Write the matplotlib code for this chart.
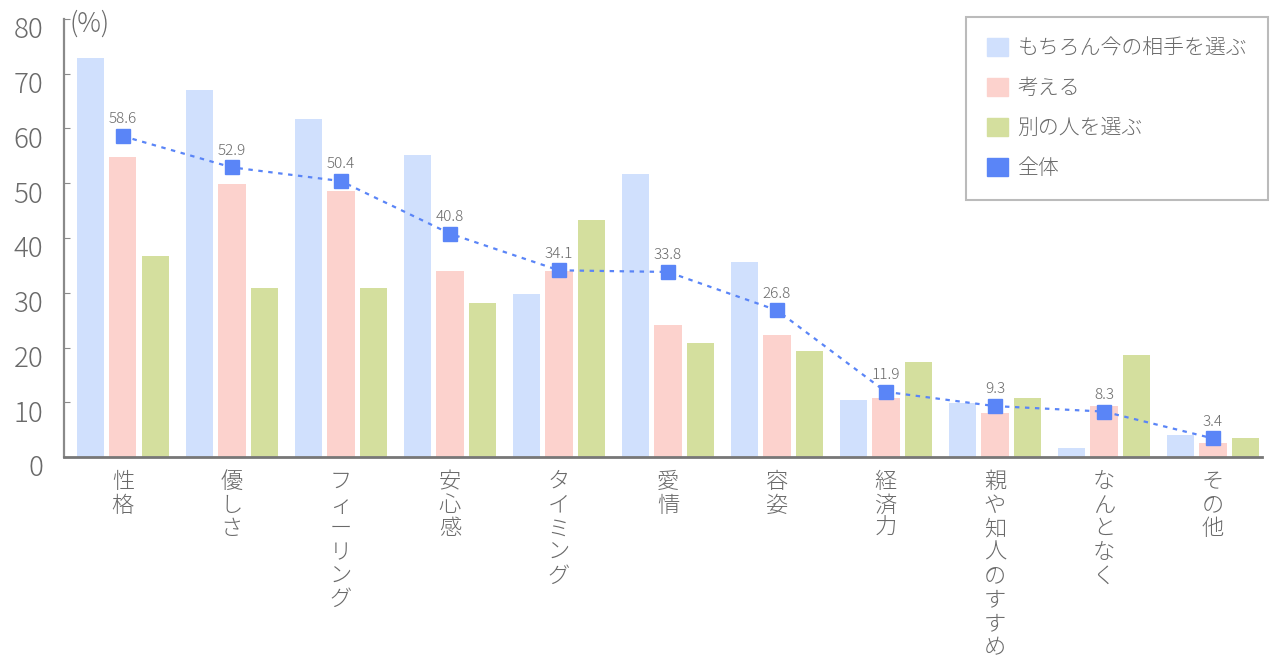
import matplotlib
matplotlib.use("Agg")
import matplotlib.pyplot as plt
import matplotlib.transforms as mtransforms
from matplotlib.patches import Patch
import numpy as np

plt.rcParams['font.family'] = ['Noto Sans CJK JP', 'DejaVu Sans']

# データ
categories = ["性格", "優しさ", "フィーリング", "安心感", "タイミング", "愛情",
              "容姿", "経済力", "親や知人のすすめ", "なんとなく", "その他"]
current_partner = [72.9, 67.0, 61.7, 55.2, 29.8, 51.7, 35.6, 10.4, 9.8, 1.7, 4.0]
thinking = [54.8, 49.8, 48.6, 34.0, 34.0, 24.2, 22.2, 10.8, 8.1, 9.4, 2.6]
other_person = [36.7, 30.9, 30.9, 28.1, 43.3, 20.9, 19.4, 17.3, 10.7, 18.6, 3.4]
total = [58.6, 52.9, 50.4, 40.8, 34.1, 33.8, 26.8, 11.9, 9.3, 8.3, 3.4]
series_names = ["もちろん今の相手を選ぶ", "考える", "別の人を選ぶ", "全体"]

c_blue = "#d0e0fd"
c_pink = "#fcd2cd"
c_green = "#d4df9e"
c_line = "#5a85f7"
c_text = "#6a6a6a"
c_axis = "#8a8a8a"

fig = plt.figure(figsize=(12.7, 6.71), dpi=100)
ax = fig.add_axes([0.0504, 0.3189, 0.9433, 0.6528])

x = np.arange(len(categories))
w = 0.25
b1 = ax.bar(x - 0.30, current_partner, w, color=c_blue, zorder=2)
b2 = ax.bar(x, thinking, w, color=c_pink, zorder=2)
b3 = ax.bar(x + 0.30, other_person, w, color=c_green, zorder=2)
ax.plot(x, total, color=c_line, ls=(0, (2, 2.5)), lw=1.6, marker='s', ms=9.5,
        mec=c_line, zorder=4)

for xi, v in zip(x, total):
    ax.annotate(f"{v}", (xi, v), xytext=(0, 7), textcoords='offset points',
                ha='center', va='bottom', fontsize=11, color=c_text,
                fontweight='light', zorder=5)

ax.set_xlim(-0.54, 10.45)
ax.set_ylim(0, 80)
ax.set_yticks(range(0, 81, 10))
ax.tick_params(axis='y', direction='in', length=4, color=c_axis, labelsize=20,
               labelcolor=c_text, pad=15)
for lab in ax.get_yticklabels():
    lab.set_fontweight('light')
    lab.set_transform(lab.get_transform() +
                      mtransforms.ScaledTranslation(0, -6 / 72, fig.dpi_scale_trans))

ax.set_xticks(x)
ax.set_xticklabels(["\n".join(c) for c in categories], fontsize=16,
                   color=c_text, linespacing=1.1, va='top', fontweight='light')
ax.tick_params(axis='x', length=0, pad=10)

for s in ["top", "right"]:
    ax.spines[s].set_visible(False)
ax.spines["left"].set_color(c_axis)
ax.spines["left"].set_linewidth(1.6)
ax.spines["bottom"].set_color("#777777")
ax.spines["bottom"].set_linewidth(2)

ax.text(0.005, 0.99, "(%)", transform=ax.transAxes, fontsize=19, color=c_text,
        ha='left', va='center', fontweight='light')

handles = [Patch(color=c_blue), Patch(color=c_pink), Patch(color=c_green),
           Patch(color=c_line)]
leg = ax.legend(handles, series_names, loc='upper right',
                bbox_to_anchor=(1.005, 1.005), frameon=True,
                fancybox=False, edgecolor="#aaaaaa", handlelength=1.0,
                handleheight=0.95, handletextpad=0.45, labelspacing=0.85,
                borderpad=1.0, borderaxespad=0,
                prop={'size': 15, 'weight': 'light'})
leg.get_frame().set_linewidth(1.5)
for t in leg.get_texts():
    t.set_color(c_text)

fig.savefig("out.png", dpi=100)
